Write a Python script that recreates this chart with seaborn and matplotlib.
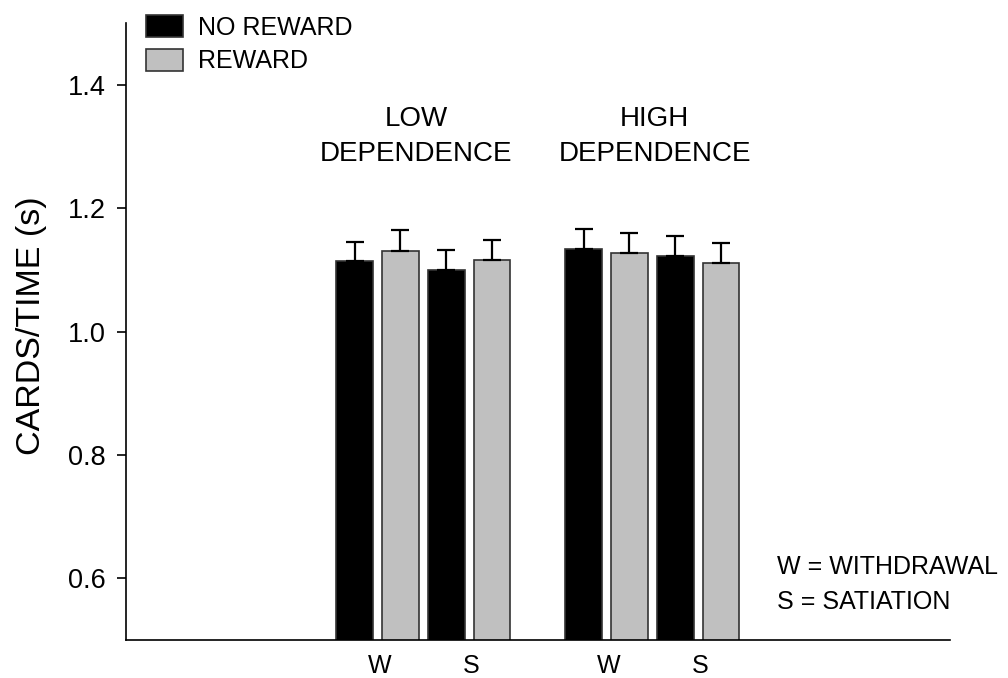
import numpy as np
import pandas as pd
import matplotlib
matplotlib.use("Agg")
import matplotlib.pyplot as plt
import seaborn as sns

# ---- data ----
dependence = ["LOW", "LOW", "LOW", "LOW", "HIGH", "HIGH", "HIGH", "HIGH"]
condition = ["W", "W", "S", "S", "W", "W", "S", "S"]
reward = ["NO REWARD", "REWARD", "NO REWARD", "REWARD",
          "NO REWARD", "REWARD", "NO REWARD", "REWARD"]
means = [1.114, 1.131, 1.100, 1.116, 1.134, 1.127, 1.123, 1.111]
sems = [0.031, 0.033, 0.032, 0.032, 0.032, 0.032, 0.032, 0.032]
group_order = ["LOW", "HIGH"]
group_titles = ["LOW\nDEPENDENCE", "HIGH\nDEPENDENCE"]
condition_order = ["W", "S"]
reward_order = ["NO REWARD", "REWARD"]
yticks = [0.6, 0.8, 1.0, 1.2, 1.4]
key_lines = ["W = WITHDRAWAL", "S = SATIATION"]

sns.set_theme(style="ticks")
plt.rcParams["font.family"] = ["Liberation Sans", "DejaVu Sans"]
for k in ["text.color", "axes.labelcolor", "xtick.color", "ytick.color",
          "axes.edgecolor"]:
    plt.rcParams[k] = "black"

df = pd.DataFrame({"dependence": dependence, "condition": condition,
                   "reward": reward, "value": means, "sem": sems})
# layout positions computed from the group structure
df["x"] = [5 + 5 * group_order.index(d) + 2 * condition_order.index(c)
           + reward_order.index(r)
           for d, c, r in zip(df.dependence, df.condition, df.reward)]

W, H = 1008, 678
fig = plt.figure(figsize=(W / 100, H / 100), dpi=100)
ax = fig.add_axes([125.7 / W, 1 - 640 / H, (950 - 125.7) / W, (640 - 23) / H])

sns.barplot(data=df, x="x", y="value", hue="reward", hue_order=reward_order,
            palette={"NO REWARD": "#000000", "REWARD": "#C0C0C0"},
            native_scale=True, dodge=False, errorbar=None, width=0.8,
            edgecolor="#333333", linewidth=1.2, ax=ax)

ax.errorbar(df["x"], df["value"], yerr=[np.zeros(len(df)), df["sem"]],
            fmt="none", ecolor="black", elinewidth=1.6, capsize=6.5,
            capthick=1.6, zorder=4)

ax.set_xlim(0, 18)
ax.set_ylim(0.5, 1.5)
ax.set_yticks(yticks)
ax.set_yticklabels([f"{v:.1f}" for v in yticks])

tick_pos = []
tick_lab = []
for g in group_order:
    for c in condition_order:
        sub = df[(df.dependence == g) & (df.condition == c)]
        tick_pos.append(sub["x"].mean() + 0.05)
        tick_lab.append(c)
ax.set_xticks(tick_pos)
ax.set_xticklabels(tick_lab)
ax.tick_params(axis="x", length=0, pad=10, labelsize=18)
ax.tick_params(axis="y", length=6.5, width=1.2, pad=8, labelsize=19.5,
               direction="out", color="black")
ax.set_xlabel("")
ax.set_ylabel("CARDS/TIME (s)", fontsize=24.5)
ax.yaxis.set_label_coords(-0.0955, 0.51)
sns.despine(ax=ax)
for s in ["left", "bottom"]:
    ax.spines[s].set_linewidth(1.2)
    ax.spines[s].set_color("black")

title_shift = [-0.15, 0.05]
for g, title, dx in zip(group_order, group_titles, title_shift):
    gx = df[df.dependence == g]["x"].mean() + dx
    ax.text(gx, 1.316, title, ha="center", va="center", fontsize=20,
            linespacing=1.45)

ax.text(14.22, 0.6186, key_lines[0], ha="left", va="center", fontsize=18)
ax.text(14.22, 0.562, key_lines[1], ha="left", va="center", fontsize=18)

handles, labels = ax.get_legend_handles_labels()
if ax.get_legend() is not None:
    ax.get_legend().remove()
for h in handles:
    h.set_edgecolor("#333333")
    h.set_linewidth(1.2)
ax.legend(handles, labels, loc="upper left",
          bbox_to_anchor=(146 / W, 1 - 15 / H), bbox_transform=fig.transFigure,
          frameon=False, borderpad=0, borderaxespad=0, fontsize=18,
          handlelength=1.48, handleheight=1.0, handletextpad=0.6,
          labelspacing=0.35)

fig.savefig("out.png", dpi=100)
